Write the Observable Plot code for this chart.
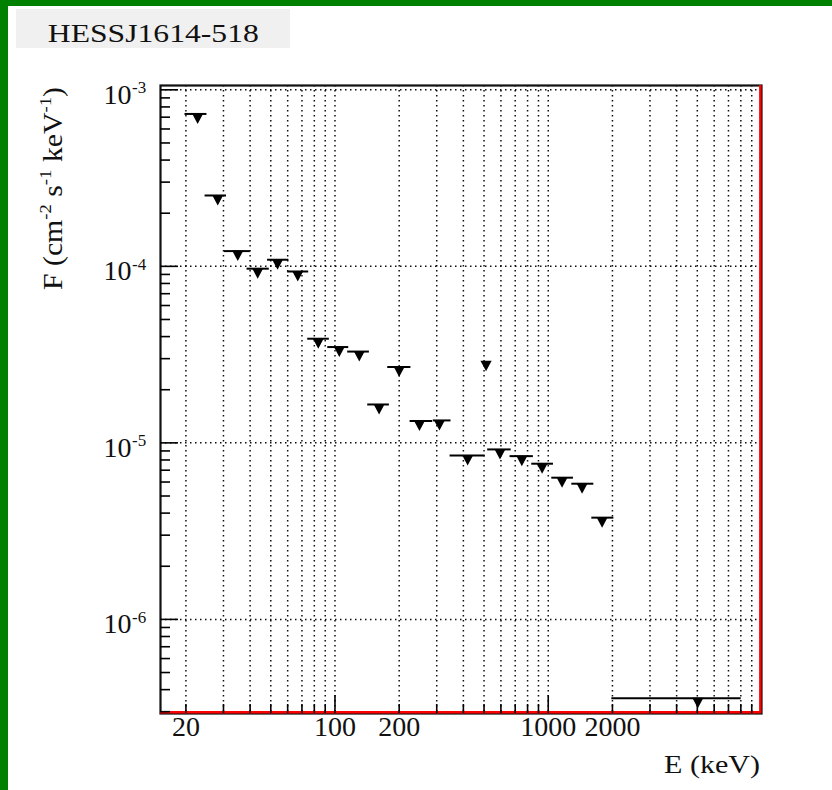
<!DOCTYPE html>
<html><head><meta charset="utf-8">
<script src="https://cdn.jsdelivr.net/npm/d3@7"></script>
<script src="https://cdn.jsdelivr.net/npm/@observablehq/plot@0.6"></script>
<style>
html,body{margin:0;padding:0;background:#fff;}
#wrap{position:relative;width:832px;height:790px;overflow:hidden;background:#fff;}
#wrap svg{position:absolute;left:0;top:0;}
.gTop{position:absolute;left:0;top:0;width:832px;height:6px;background:#008000;}
.gLeft{position:absolute;left:0;top:0;width:8px;height:790px;background:#008000;}
</style>
</head><body>
<div id="wrap"></div>
<script>
// ---- data ----
const energy = [22.7, 28.2, 35.0, 43.4, 53.8, 66.9, 83.5, 104.8, 130, 161, 200, 249, 309, 419, 511, 594, 752, 936, 1161, 1441, 1789, 5030];
const eLow   = [19.8, 24.6, 30.3, 38.7, 48.3, 60.0, 74.5, 92.5, 114.7, 142.4, 176.7, 225, 289, 346.5, 511, 520, 662, 837, 1039, 1290, 1601, 1987];
const eHigh  = [25.1, 31.0, 40.1, 49.2, 60.8, 75.3, 94.1, 116, 145, 180, 227, 287, 350, 506, 511, 670, 852, 1058, 1313, 1636, 2031, 8030];
const flux   = [7.3e-4, 2.52e-4, 1.22e-4, 9.7e-5, 1.09e-4, 9.35e-5, 3.89e-5, 3.49e-5, 3.29e-5, 1.65e-5, 2.69e-5, 1.33e-5, 1.34e-5, 8.49e-6, 2.9e-5, 9.18e-6, 8.41e-6, 7.62e-6, 6.35e-6, 5.87e-6, 3.77e-6, 3.58e-7];

const xDomain = [15.2, 10000];
const yDomain = [2.93e-7, 1.058e-3];
const xGridValues = [20,30,40,50,60,70,80,90,100,200,300,400,500,600,700,800,900,1000,2000,3000,4000,5000,6000,7000,8000,9000];
const xMajorTicks = [100, 1000];
const xMinorTicks = [20,30,40,50,60,70,80,90,200,300,400,500,600,700,800,900,2000,3000,4000,5000,6000,7000,8000,9000];
const xTickLabels = [20, 100, 200, 1000, 2000];
const yMajorTicks = [1e-3, 1e-4, 1e-5, 1e-6];
const yExponents = ["-3", "-4", "-5", "-6"];
const yMinorTicks = [3e-7,4e-7,5e-7,6e-7,7e-7,8e-7,9e-7, 2e-6,3e-6,4e-6,5e-6,6e-6,7e-6,8e-6,9e-6, 2e-5,3e-5,4e-5,5e-5,6e-5,7e-5,8e-5,9e-5, 2e-4,3e-4,4e-4,5e-4,6e-4,7e-4,8e-4,9e-4];

const titleText = "HESSJ1614-518";
const xTitle = "E (keV)";

const data = energy.map((e, i) => ({E: e, lo: eLow[i], hi: eHigh[i], F: flux[i]}));

// downward triangle whose flat top sits on the point
const triDown = {
  draw(ctx, size) {
    const r = Math.sqrt(size / Math.PI);
    const w = r * 1.4, h = r * 2.5;
    ctx.moveTo(-w, -0.5); ctx.lineTo(w, -0.5); ctx.lineTo(0, h); ctx.closePath();
  }
};

const FONT = "Liberation Serif";
const dotted = {stroke: "#000", strokeWidth: 1.5, strokeDasharray: "1.5,3.5", strokeOpacity: 0.95};

const svg = Plot.plot({
  width: 832, height: 790,
  marginLeft: 160, marginRight: 71, marginTop: 85, marginBottom: 77,
  style: {background: "transparent", fontFamily: FONT, overflow: "visible", color: "#000"},
  x: {type: "log", domain: xDomain, axis: null},
  y: {type: "log", domain: yDomain, axis: null},
  marks: [
    Plot.ruleX(xGridValues, {x: d => d, ...dotted}),
    Plot.ruleY(yMajorTicks, {y: d => d, ...dotted}),
    Plot.frame({stroke: "#111", strokeWidth: 2.2}),
    Plot.ruleY([yDomain[0]], {y: d => d, stroke: "#ff0000", strokeWidth: 2.4, dy: -1.2}),
    Plot.ruleX([xDomain[1]], {x: d => d, stroke: "#ff0000", strokeWidth: 2.4, dx: -1.2}),
    Plot.ruleX(xMinorTicks, {x: d => d, insetTop: 619, stroke: "#000", strokeWidth: 1.6}),
    Plot.ruleX(xMajorTicks, {x: d => d, insetTop: 610, stroke: "#000", strokeWidth: 1.6}),
    Plot.ruleY(yMinorTicks, {y: d => d, insetRight: 591, stroke: "#000", strokeWidth: 1.6}),
    Plot.ruleY(yMajorTicks, {y: d => d, insetRight: 583, stroke: "#000", strokeWidth: 1.6}),
    Plot.text(xTickLabels, {x: d => d, frameAnchor: "bottom", dy: 22, text: d => String(d), fontSize: 28, fill: "#111"}),
    Plot.text(yMajorTicks, {y: d => d, frameAnchor: "left", dx: -29, dy: 5, text: () => "10", textAnchor: "end", fontSize: 28, fill: "#111"}),
    Plot.text(yMajorTicks, {y: d => d, frameAnchor: "left", dx: -28.5, dy: -2, text: (d, i) => yExponents[i], textAnchor: "start", fontSize: 17, fill: "#111"}),
    Plot.ruleY(data, {y: "F", x1: "lo", x2: "hi", stroke: "#000", strokeWidth: 2}),
    Plot.dot(data, {x: "E", y: "F", symbol: triDown, r: 4, fill: "#000", stroke: "none"})
  ]
});

const wrap = document.getElementById("wrap");
wrap.appendChild(svg);
const s = d3.select(svg);

// title pave
s.append("rect").attr("x", 16).attr("y", 9).attr("width", 274).attr("height", 39).attr("fill", "#f0f0f0");
s.append("text").attr("x", 47.8).attr("y", 41.7).attr("text-anchor", "start").attr("font-family", FONT).attr("font-size", 26)
  .attr("fill", "#111").attr("textLength", 211).attr("lengthAdjust", "spacingAndGlyphs").text(titleText);

// x title
s.append("text").attr("x", 664).attr("y", 772.7).attr("text-anchor", "start").attr("font-family", FONT).attr("font-size", 26)
  .attr("fill", "#111").attr("textLength", 96).attr("lengthAdjust", "spacingAndGlyphs").text(xTitle);

// y title with superscripts
const yt = s.append("text").attr("transform", "translate(61.7,290) rotate(-90)").attr("text-anchor", "start")
  .attr("font-family", FONT).attr("font-size", 27).attr("fill", "#111")
  .attr("textLength", 203).attr("lengthAdjust", "spacingAndGlyphs");
yt.append("tspan").text("F (cm");
yt.append("tspan").attr("font-size", 17).attr("dy", -11).text("-2");
yt.append("tspan").attr("dy", 11).text(" s");
yt.append("tspan").attr("font-size", 17).attr("dy", -11).text("-1");
yt.append("tspan").attr("dy", 11).text(" keV");
yt.append("tspan").attr("font-size", 17).attr("dy", -11).text("-1");
yt.append("tspan").attr("dy", 11).text(")");

const g1 = document.createElement("div"); g1.className = "gTop"; wrap.appendChild(g1);
const g2 = document.createElement("div"); g2.className = "gLeft"; wrap.appendChild(g2);
</script>
</body></html>
